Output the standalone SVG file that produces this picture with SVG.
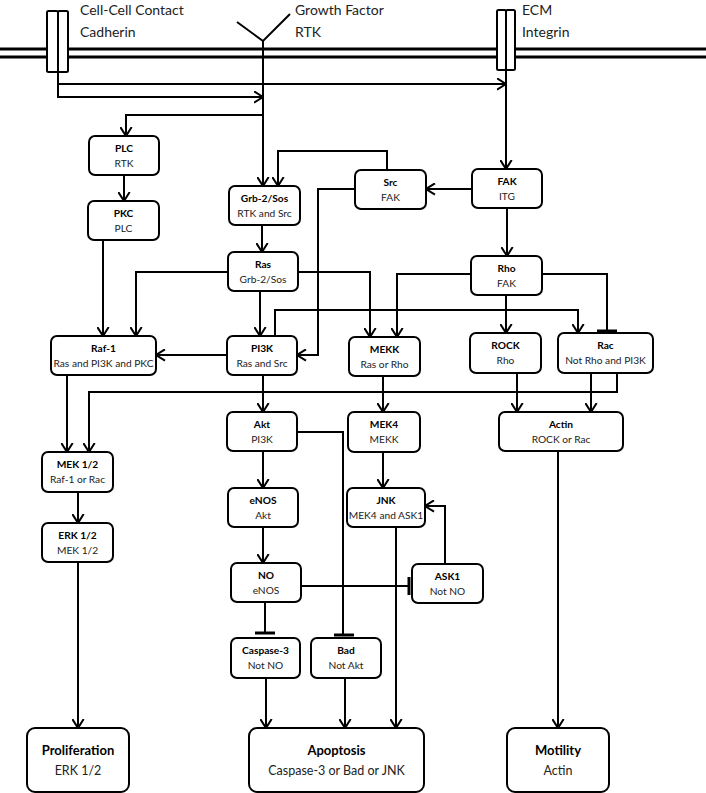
<svg xmlns="http://www.w3.org/2000/svg" width="706" height="793" viewBox="0 0 706 793">
<defs>
<marker id="arr" viewBox="0 0 10 13" refX="9.5" refY="6.5" markerWidth="10" markerHeight="13" markerUnits="userSpaceOnUse" orient="auto">
<path d="M0.5,0.8 L9.5,6.5 L0.5,12.2" fill="none" stroke="#000" stroke-width="2"/>
</marker>
</defs>
<style>
.box{fill:#fff;stroke:#000;stroke-width:2}
.ln{fill:none;stroke:#000;stroke-width:2}
.a{marker-end:url(#arr)}
.bar{stroke:#000;stroke-width:3}
.mem{stroke:#000;stroke-width:3}
.t{font-family:Lato,"Liberation Sans",sans-serif;font-weight:bold;font-size:10.2px;text-anchor:middle;fill:#000}
.s{font-family:Lato,"Liberation Sans",sans-serif;font-size:10.2px;text-anchor:middle;fill:#222}
.bt{font-family:Lato,"Liberation Sans",sans-serif;font-weight:bold;font-size:13px;text-anchor:middle;fill:#000}
.bs{font-family:Lato,"Liberation Sans",sans-serif;font-size:12.5px;text-anchor:middle;fill:#222}
.lbl{font-family:Lato,"Liberation Sans",sans-serif;font-size:14px;fill:#222}
</style>
<rect width="706" height="793" fill="#fff"/>
<g id="membrane">
<line class="mem" x1="0" y1="49" x2="706" y2="49"/>
<line class="mem" x1="0" y1="57" x2="706" y2="57"/>
</g>
<g id="cadherin">
<rect class="box" x="47" y="11" width="11" height="61" rx="1.5"/>
<rect class="box" x="58" y="11" width="10" height="61" rx="1.5"/>
<text class="lbl" x="80" y="15">Cell-Cell Contact</text>
<text class="lbl" x="80" y="37">Cadherin</text>
</g>
<g id="rtk">
<path class="ln" d="M237,22 L263,41 L290,14"/>
<text class="lbl" x="295" y="15">Growth Factor</text>
<text class="lbl" x="295" y="37">RTK</text>
</g>
<g id="integrin">
<rect class="box" x="497" y="10" width="9" height="60" rx="1.5"/>
<rect class="box" x="506" y="10" width="9" height="60" rx="1.5"/>
<text class="lbl" x="522" y="15">ECM</text>
<text class="lbl" x="522" y="37">Integrin</text>
</g>
<g id="connectors">
<path class="ln a" d="M58,72 V97 H263"/>
<path class="ln a" d="M58,84 H506"/>
<path class="ln a" d="M263,41 V186"/>
<path class="ln a" d="M263,115 H126 V136"/>
<path class="ln a" d="M506,70 V169"/>
<path class="ln a" d="M124,175 V201"/>
<path class="ln a" d="M103,240 V336"/>
<path class="ln a" d="M228,272 H136 V336"/>
<path class="ln a" d="M262,225 V252"/>
<path class="ln a" d="M387,170 V151 H278 V186"/>
<path class="ln a" d="M355,189 H318 V355 H297"/>
<path class="ln a" d="M472,189 H426"/>
<path class="ln a" d="M507,208 V256"/>
<path class="ln a" d="M260,291 V336"/>
<path class="ln a" d="M298,272 H370 V337"/>
<path class="ln a" d="M471,274 H397 V337"/>
<path class="ln" d="M542,274 H607 V331"/>
<line class="bar" x1="597" y1="331" x2="617" y2="331"/>
<path class="ln a" d="M506,295 V333"/>
<path class="ln a" d="M275,336 V310 H578 V333"/>
<path class="ln a" d="M227,355 H156"/>
<path class="ln a" d="M67,375 V452"/>
<path class="ln a" d="M617,373 V392 H89 V452"/>
<path class="ln a" d="M78,492 V523"/>
<path class="ln a" d="M78,562 V728"/>
<path class="ln a" d="M263,375 V412"/>
<path class="ln" d="M297,432 H343 V635"/>
<line class="bar" x1="334" y1="635" x2="354" y2="635"/>
<path class="ln a" d="M263,451 V488"/>
<path class="ln a" d="M263,527 V563"/>
<path class="ln" d="M301,586 H408"/>
<line class="bar" x1="409" y1="577" x2="409" y2="595"/>
<path class="ln" d="M265,602 V633"/>
<line class="bar" x1="255" y1="633" x2="275" y2="633"/>
<path class="ln a" d="M383,375 V412"/>
<path class="ln a" d="M383,452 V488"/>
<path class="ln a" d="M445,564 V506 H425"/>
<path class="ln a" d="M396,527 V728"/>
<path class="ln a" d="M517,373 V412"/>
<path class="ln a" d="M591,373 V412"/>
<path class="ln a" d="M558,451 V728"/>
<path class="ln a" d="M266,678 V728"/>
<path class="ln a" d="M345,678 V728"/>
</g>
<g id="PLC"><rect class="box" x="89" y="136" width="70" height="39" rx="6"/><text class="t" x="124" y="152">PLC</text><text class="s" x="124" y="167">RTK</text></g>
<g id="PKC"><rect class="box" x="88" y="201" width="71" height="39" rx="6"/><text class="t" x="123.5" y="217">PKC</text><text class="s" x="123.5" y="232">PLC</text></g>
<g id="Grb2Sos"><rect class="box" x="229" y="186" width="71" height="39" rx="6"/><text class="t" x="264.5" y="202">Grb-2/Sos</text><text class="s" x="264.5" y="217">RTK and Src</text></g>
<g id="Src"><rect class="box" x="355" y="170" width="71" height="39" rx="6"/><text class="t" x="390.5" y="186">Src</text><text class="s" x="390.5" y="201">FAK</text></g>
<g id="FAK"><rect class="box" x="472" y="169" width="70" height="39" rx="6"/><text class="t" x="507" y="185">FAK</text><text class="s" x="507" y="200">ITG</text></g>
<g id="Ras"><rect class="box" x="228" y="252" width="70" height="39" rx="6"/><text class="t" x="263" y="268">Ras</text><text class="s" x="263" y="283">Grb-2/Sos</text></g>
<g id="Rho"><rect class="box" x="471" y="256" width="71" height="39" rx="6"/><text class="t" x="506.5" y="272">Rho</text><text class="s" x="506.5" y="287">FAK</text></g>
<g id="Raf1"><rect class="box" x="51" y="336" width="105" height="39" rx="6"/><text class="t" x="103.5" y="352">Raf-1</text><text class="s" x="103.5" y="367">Ras and PI3K and PKC</text></g>
<g id="PI3K"><rect class="box" x="227" y="336" width="70" height="39" rx="6"/><text class="t" x="262" y="352">PI3K</text><text class="s" x="262" y="367">Ras and Src</text></g>
<g id="MEKK"><rect class="box" x="349" y="337" width="71" height="39" rx="6"/><text class="t" x="384.5" y="353">MEKK</text><text class="s" x="384.5" y="368">Ras or Rho</text></g>
<g id="ROCK"><rect class="box" x="470" y="333" width="71" height="40" rx="6"/><text class="t" x="505.5" y="349">ROCK</text><text class="s" x="505.5" y="364">Rho</text></g>
<g id="Rac"><rect class="box" x="558" y="333" width="95" height="40" rx="6"/><text class="t" x="605.5" y="349">Rac</text><text class="s" x="605.5" y="364">Not Rho and PI3K</text></g>
<g id="Akt"><rect class="box" x="227" y="412" width="70" height="39" rx="6"/><text class="t" x="262" y="428">Akt</text><text class="s" x="262" y="443">PI3K</text></g>
<g id="MEK4"><rect class="box" x="348" y="412" width="72" height="40" rx="6"/><text class="t" x="384" y="428">MEK4</text><text class="s" x="384" y="443">MEKK</text></g>
<g id="Actin"><rect class="box" x="499" y="412" width="124" height="39" rx="6"/><text class="t" x="561" y="428">Actin</text><text class="s" x="561" y="443">ROCK or Rac</text></g>
<g id="MEK12"><rect class="box" x="42" y="452" width="71" height="40" rx="6"/><text class="t" x="77.5" y="468">MEK 1/2</text><text class="s" x="77.5" y="483">Raf-1 or Rac</text></g>
<g id="ERK12"><rect class="box" x="42" y="523" width="71" height="39" rx="6"/><text class="t" x="77.5" y="539">ERK 1/2</text><text class="s" x="77.5" y="554">MEK 1/2</text></g>
<g id="eNOS"><rect class="box" x="228" y="488" width="70" height="39" rx="6"/><text class="t" x="263" y="504">eNOS</text><text class="s" x="263" y="519">Akt</text></g>
<g id="JNK"><rect class="box" x="347" y="488" width="78" height="39" rx="6"/><text class="t" x="386" y="504">JNK</text><text class="s" x="386" y="519">MEK4 and ASK1</text></g>
<g id="NO"><rect class="box" x="231" y="563" width="70" height="39" rx="6"/><text class="t" x="266" y="579">NO</text><text class="s" x="266" y="594">eNOS</text></g>
<g id="ASK1"><rect class="box" x="412" y="564" width="71" height="39" rx="6"/><text class="t" x="447.5" y="580">ASK1</text><text class="s" x="447.5" y="595">Not NO</text></g>
<g id="Caspase3"><rect class="box" x="231" y="638" width="69" height="40" rx="6"/><text class="t" x="265.5" y="654">Caspase-3</text><text class="s" x="265.5" y="669">Not NO</text></g>
<g id="Bad"><rect class="box" x="311" y="638" width="70" height="40" rx="6"/><text class="t" x="346" y="654">Bad</text><text class="s" x="346" y="669">Not Akt</text></g>
<g id="Proliferation"><rect class="box" x="27" y="728" width="102" height="64" rx="8"/><text class="bt" x="78" y="755">Proliferation</text><text class="bs" x="78" y="775">ERK 1/2</text></g>
<g id="Apoptosis"><rect class="box" x="249" y="728" width="175" height="64" rx="8"/><text class="bt" x="336.5" y="755">Apoptosis</text><text class="bs" x="336.5" y="775">Caspase-3 or Bad or JNK</text></g>
<g id="Motility"><rect class="box" x="507" y="728" width="102" height="64" rx="8"/><text class="bt" x="558" y="755">Motility</text><text class="bs" x="558" y="775">Actin</text></g>
</svg>
